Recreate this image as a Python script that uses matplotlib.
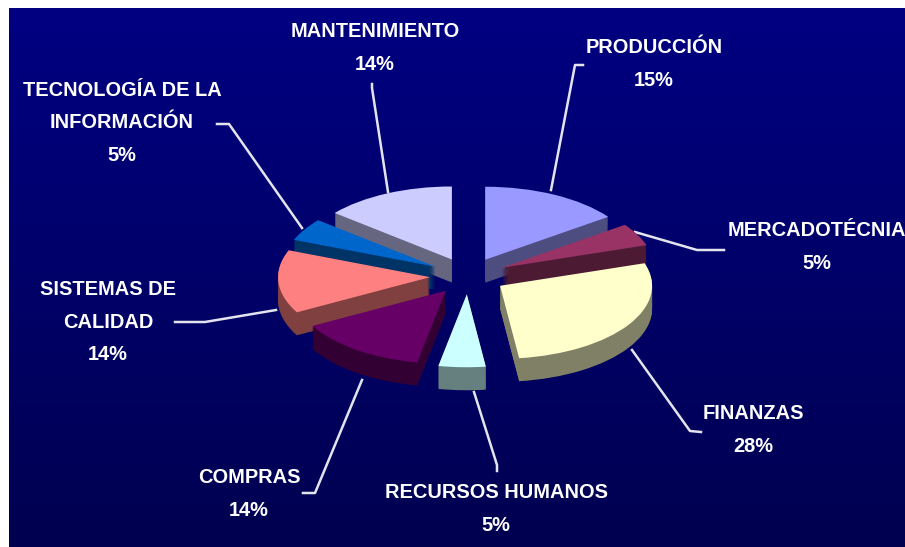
import matplotlib
matplotlib.use('Agg')
import matplotlib.pyplot as plt
import numpy as np

W, H = 905, 547

names = ['PRODUCCIÓN', 'MERCADOTÉCNIA', 'FINANZAS', 'RECURSOS HUMANOS', 'COMPRAS',
         'SISTEMAS DE\nCALIDAD', 'TECNOLOGÍA DE LA\nINFORMACIÓN', 'MANTENIMIENTO']
values = [15, 5, 28, 5, 14, 14, 5, 14]

top_colors = ['#9999FF', '#993366', '#FFFFCC', '#CCFFFF', '#660066', '#FF8080', '#0066CC', '#CCCCFF']
side_colors = ['#4D4D80', '#4D1A33', '#808066', '#668080', '#330033', '#804040', '#003366', '#666680']

# back slices first, front slices last
draw_rank = [1, 3, 5, 7, 6, 4, 2, 0]

label_xy = [(654, 64), (817, 247), (753, 430), (496, 509), (249, 494), (108, 322), (122, 123), (375, 48)]

leaders = [
    [(551, 190), (575, 65), (583, 65)],
    [(635, 232), (697, 250), (724, 250)],
    [(632, 350), (690, 431), (701, 432)],
    [(474, 392), (497, 465), (497, 471)],
    [(362, 380), (315, 493), (303, 493)],
    [(276, 310), (205, 322), (175, 322)],
    [(302, 228), (229, 124), (217, 124)],
    [(388, 192), (372, 88), (372, 84)],
]

fig = plt.figure(figsize=(W / 100, H / 100), dpi=100, facecolor='white')

# page axes in pixels of the picture
bg = fig.add_axes([0, 0, 1, 1])
bg.set_xlim(0, W)
bg.set_ylim(H, 0)
bg.axis('off')
grad = np.linspace(0, 1, 256).reshape(-1, 1)
cmap = matplotlib.colors.LinearSegmentedColormap.from_list('bg', ['#000082', '#000050'])
bg.imshow(grad, extent=(9, W, H, 8), cmap=cmap, aspect='auto', zorder=0)
bg.set_xlim(0, W)
bg.set_ylim(H, 0)

for pts in leaders:
    xs, ys = zip(*pts)
    bg.plot(xs, ys, color='#E4E4EE', lw=1.8, solid_joinstyle='round', zorder=1)

for name, v, (x, y) in zip(names, values, label_xy):
    bg.text(x, y, f'{name}\n{v}%', color='white', family='Liberation Sans', weight='bold',
            fontsize=14.4, ha='center', va='center', linespacing=1.93, zorder=2)

# the pie sits in its own axes, squashed so that one unit is rx px wide and ry px tall
cx, cy = 468, 276
rx, ry = 152, 73
lim = 1.6
ax = fig.add_axes([(cx - lim * rx) / W, 1 - (cy + lim * ry) / H, 2 * lim * rx / W, 2 * lim * ry / H])
ax.patch.set_visible(False)

explode = [0.25] * len(values)
depth = 0.315
layers = 24


def draw_pie(y, colors, z):
    wedges, _ = ax.pie(values, colors=colors, explode=explode, startangle=90, counterclock=False,
                       radius=1, center=(0, y), wedgeprops={'linewidth': 0})
    for w, r in zip(wedges, draw_rank):
        w.set_zorder(r * 10 + z)


for k in range(layers, 0, -1):
    draw_pie(-depth * k / layers, side_colors, 1)
draw_pie(0, top_colors, 2)

ax.set_aspect('auto')
ax.set_xlim(-lim, lim)
ax.set_ylim(-lim, lim)

fig.savefig('out.png', dpi=100)
